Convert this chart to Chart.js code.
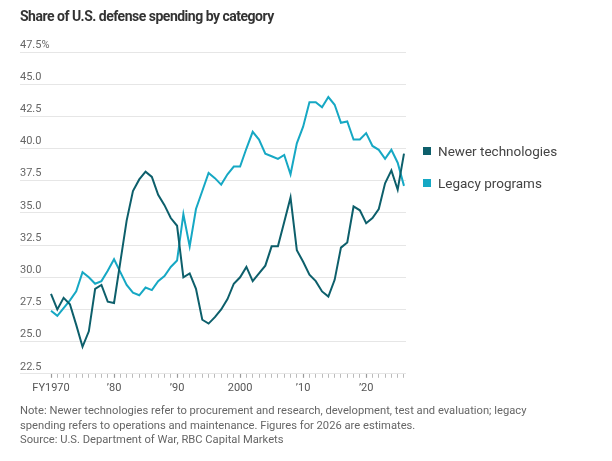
<!DOCTYPE html>
<html>
<head>
<meta charset="utf-8">
<script src="https://cdn.jsdelivr.net/npm/chart.js@4.4.1/dist/chart.umd.min.js"></script>
<style>
  html, body { margin: 0; padding: 0; background: #fff; }
  body { width: 612px; height: 461px; overflow: hidden; font-family: 'Roboto', sans-serif; }
  #wrap { position: relative; width: 612px; height: 461px; }
  #chart { position: absolute; left: 0; top: 0; }
  #title { position: absolute; left: 20px; top: 8px; font-size: 14px; letter-spacing: -0.5px; font-weight: bold; color: #333; }
  #legend { position: absolute; left: 423px; top: 143px; font-size: 13.5px; color: #444; }
  #legend div { height: 32px; display: flex; align-items: flex-start; }
  #legend span.box { display: inline-block; width: 8px; height: 8px; margin: 4px 7px 0 0; }
  #note { position: absolute; left: 20px; top: 404px; font-size: 11.2px; line-height: 14.7px; color: #666; width: 580px; white-space: nowrap; }
</style>
</head>
<body>
<div id="wrap">
  <canvas id="chart" width="612" height="461"></canvas>
  <div id="title">Share of U.S. defense spending by category</div>
  <div id="legend"></div>
  <div id="note">Note: Newer technologies refer to procurement and research, development, test and evaluation; legacy<br>spending refers to operations and maintenance. Figures for 2026 are estimates.<br>Source: U.S. Department of War, RBC Capital Markets</div>
</div>
<script>
// Dati: fiskālie gadi 1970–2026
const years = [];
for (let y = 1970; y <= 2026; y++) years.push(y);

const newerTech = [
  28.7, 27.5, 28.4, 27.9, 26.3, 24.6, 25.8, 29.1, 29.4, 28.1,
  28.0, 31.2, 34.4, 36.7, 37.6, 38.2, 37.8, 36.4, 35.6, 34.6,
  34.0, 30.0, 30.3, 29.1, 26.7, 26.4, 26.9, 27.5, 28.3, 29.5,
  30.0, 30.8, 29.7, 30.3, 30.9, 32.4, 32.4, 34.3, 36.2, 32.1,
  31.2, 30.2, 29.7, 28.9, 28.5, 29.8, 32.3, 32.7, 35.5, 35.2,
  34.2, 34.6, 35.3, 37.3, 38.3, 36.8, 39.6
];

const legacyPrograms = [
  27.4, 27.0, 27.6, 28.2, 28.9, 30.4, 30.0, 29.5, 29.7, 30.5,
  31.4, 30.4, 29.4, 28.8, 28.6, 29.2, 29.0, 29.7, 30.1, 30.8,
  31.3, 34.9, 32.4, 35.3, 36.7, 38.1, 37.7, 37.2, 38.0, 38.6,
  38.6, 40.0, 41.3, 40.7, 39.6, 39.4, 39.2, 39.5, 38.0, 40.4,
  41.7, 43.6, 43.6, 43.2, 44.0, 43.4, 42.0, 42.1, 40.7, 40.7,
  41.2, 40.2, 39.9, 39.2, 39.9, 38.9, 37.1
];

const yTicks = [22.5, 25, 27.5, 30, 32.5, 35, 37.5, 40, 42.5, 45, 47.5];

const decadeLabels = { 1970: 'FY1970', 1980: '\u201980', 1990: '\u201990', 2000: '2000', 2010: '\u201910', 2020: '\u201920' };

const seriesColors = ['#0d5f6b', '#16a8c4'];

const ctx = document.getElementById('chart').getContext('2d');
const chart = new Chart(ctx, {
  type: 'line',
  data: {
    datasets: [
      {
        label: 'Newer technologies',
        data: years.map((y, i) => ({ x: y, y: newerTech[i] })),
        borderColor: seriesColors[0],
        backgroundColor: seriesColors[0],
        borderWidth: 2,
        pointRadius: 0,
        tension: 0
      },
      {
        label: 'Legacy programs',
        data: years.map((y, i) => ({ x: y, y: legacyPrograms[i] })),
        borderColor: seriesColors[1],
        backgroundColor: seriesColors[1],
        borderWidth: 2,
        pointRadius: 0,
        tension: 0
      }
    ]
  },
  options: {
    responsive: false,
    animation: false,
    layout: { padding: { left: 20, right: 206, top: 52, bottom: 62 } },
    plugins: {
      legend: { display: false },
      tooltip: { enabled: false }
    },
    scales: {
      x: {
        type: 'linear',
        min: 1965.08,
        max: 2026.32,
        afterBuildTicks: (axis) => { axis.ticks = years.map(v => ({ value: v })); },
        grid: {
          drawOnChartArea: false,
          drawTicks: true,
          tickLength: 4,
          tickColor: (c) => (c.tick && c.tick.value % 10 === 0) ? '#999' : '#bbb',
          tickWidth: (c) => (c.tick && c.tick.value % 10 === 0) ? 1.2 : 1
        },
        border: { display: false },
        ticks: {
          autoSkip: false,
          maxRotation: 0,
          padding: 4,
          color: '#555',
          font: { family: "'Roboto', sans-serif", size: 11 },
          callback: (v) => decadeLabels[v] || ''
        }
      },
      y: {
        min: 22.5,
        max: 47.5,
        afterBuildTicks: (axis) => { axis.ticks = yTicks.map(v => ({ value: v })); },
        grid: {
          color: '#e6e6e6',
          lineWidth: 1,
          drawTicks: false
        },
        border: { display: false },
        ticks: {
          mirror: true,
          padding: 0,
          labelOffset: -7,
          color: '#666',
          font: { family: "'Roboto', sans-serif", size: 11 },
          callback: (v) => v === 47.5 ? '47.5%' : v.toFixed(1)
        }
      }
    }
  }
});

// HTML leģenda no datu kopām
const legendEl = document.getElementById('legend');
chart.data.datasets.forEach((ds) => {
  const row = document.createElement('div');
  const box = document.createElement('span');
  box.className = 'box';
  box.style.background = ds.borderColor;
  row.appendChild(box);
  row.appendChild(document.createTextNode(ds.label));
  legendEl.appendChild(row);
});
</script>
</body>
</html>
